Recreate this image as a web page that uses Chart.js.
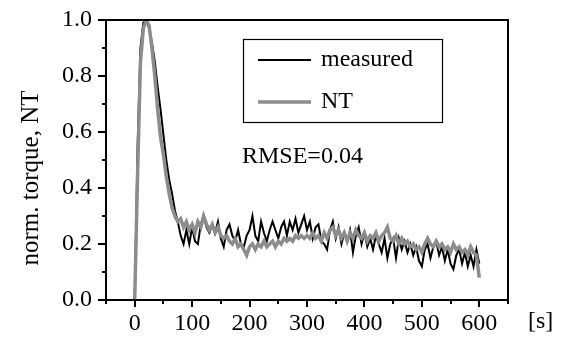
<!DOCTYPE html>
<html>
<head>
<meta charset="utf-8">
<script src="https://cdn.jsdelivr.net/npm/chart.js@4"></script>
<style>
  html, body { margin: 0; padding: 0; background: #fff; }
  #wrap { width: 567px; height: 338px; }
</style>
</head>
<body>
<div id="wrap"><canvas id="canvas" width="567" height="338"></canvas></div>
<script>
// time axis [s], one sample every 5 s
const tiempos = [
  0,5,10,15,20,25,30,35,40,45,50,55,60,65,70,75,80,85,90,95,
  100,105,110,115,120,125,130,135,140,145,150,155,160,165,170,175,180,185,190,195,
  200,205,210,215,220,225,230,235,240,245,250,255,260,265,270,275,280,285,290,295,
  300,305,310,315,320,325,330,335,340,345,350,355,360,365,370,375,380,385,390,395,
  400,405,410,415,420,425,430,435,440,445,450,455,460,465,470,475,480,485,490,495,
  500,505,510,515,520,525,530,535,540,545,550,555,560,565,570,575,580,585,590,595,
  600
];
// measured (black)
const medido = [
  0.00,0.55,0.90,0.99,1.00,0.97,0.92,0.85,0.76,0.68,0.59,0.50,0.43,0.38,0.32,0.28,0.23,0.20,0.25,0.20,
  0.26,0.21,0.20,0.27,0.30,0.26,0.24,0.27,0.24,0.28,0.22,0.19,0.25,0.27,0.23,0.21,0.25,0.20,0.19,0.23,
  0.25,0.30,0.23,0.21,0.28,0.24,0.21,0.25,0.28,0.25,0.22,0.26,0.28,0.23,0.28,0.25,0.29,0.24,0.27,0.30,
  0.25,0.28,0.22,0.26,0.27,0.21,0.20,0.18,0.25,0.28,0.22,0.26,0.20,0.24,0.21,0.25,0.17,0.23,0.26,0.20,
  0.24,0.19,0.22,0.18,0.23,0.20,0.17,0.22,0.15,0.20,0.22,0.15,0.22,0.18,0.21,0.17,0.20,0.16,0.19,0.14,
  0.12,0.18,0.20,0.15,0.19,0.21,0.16,0.19,0.14,0.18,0.13,0.11,0.16,0.18,0.13,0.17,0.12,0.16,0.12,0.18,
  0.13
];
// NT model (gray)
const modeloNT = [
  0.00,0.45,0.85,0.97,1.00,0.98,0.90,0.80,0.68,0.58,0.52,0.44,0.38,0.33,0.30,0.28,0.29,0.26,0.28,0.25,
  0.27,0.24,0.28,0.26,0.30,0.27,0.25,0.27,0.24,0.26,0.23,0.22,0.23,0.21,0.20,0.22,0.19,0.20,0.18,0.16,
  0.19,0.20,0.18,0.20,0.19,0.21,0.19,0.20,0.21,0.19,0.21,0.20,0.22,0.21,0.22,0.21,0.23,0.22,0.23,0.22,
  0.23,0.22,0.24,0.22,0.23,0.21,0.24,0.22,0.25,0.26,0.23,0.25,0.22,0.24,0.21,0.24,0.22,0.25,0.23,0.22,
  0.24,0.21,0.23,0.22,0.24,0.21,0.23,0.24,0.26,0.22,0.21,0.23,0.20,0.22,0.20,0.21,0.19,0.20,0.18,0.19,
  0.17,0.20,0.22,0.20,0.19,0.21,0.19,0.20,0.18,0.19,0.17,0.20,0.18,0.19,0.17,0.18,0.16,0.19,0.17,0.16,
  0.08
];
const etiquetas = ["measured", "NT"];
const textoRMSE = "RMSE=0.04";
const tituloY = "norm. torque, NT";
const unidadX = "[s]";

const fuente = "'Liberation Serif', 'Times New Roman', serif";

function puntos(xs, ys){
    let lista = [];
    for (let i = 0; i < xs.length; i++){
        lista.push({x: xs[i], y: ys[i]});
    }
    return lista;
}

// ticks, frame, legend box and extra texts
const extras = {
    id: "extras",
    afterDraw(chart){
        const ctx = chart.ctx;
        const a = chart.chartArea;
        const sx = chart.scales.x;
        const sy = chart.scales.y;
        ctx.save();
        ctx.strokeStyle = "#000";
        ctx.lineWidth = 2;
        // frame
        ctx.strokeRect(a.left, a.top, a.right - a.left, a.bottom - a.top);
        // tick marks, major longer than minor
        ctx.beginPath();
        sy.ticks.forEach(t => {
            const py = Math.round(sy.getPixelForValue(t.value));
            const mayor = Math.round(t.value * 10) % 2 === 0;
            ctx.moveTo(a.left - (mayor ? 8 : 4), py);
            ctx.lineTo(a.left, py);
        });
        sx.ticks.forEach(t => {
            const px = Math.round(sx.getPixelForValue(t.value));
            const mayor = t.value % 100 === 0;
            ctx.moveTo(px, a.bottom);
            ctx.lineTo(px, a.bottom + (mayor ? 7 : 4));
        });
        ctx.stroke();

        // legend box
        const ds = chart.data.datasets;
        ctx.lineWidth = 1.2;
        ctx.strokeRect(243.5, 39.5, 199, 83);
        const filas = [60, 102];
        ctx.font = "24px " + fuente;
        ctx.textBaseline = "middle";
        ctx.textAlign = "left";
        ds.forEach((d, i) => {
            ctx.strokeStyle = d.borderColor;
            ctx.lineWidth = d.borderWidth;
            ctx.beginPath();
            ctx.moveTo(258, filas[i]);
            ctx.lineTo(311, filas[i]);
            ctx.stroke();
        });
        ctx.fillStyle = "#000";
        ctx.fillText(etiquetas[0], 321, filas[0]);
        ctx.fillText(etiquetas[1], 321, filas[1]);

        // RMSE note
        ctx.fillText(textoRMSE, 242, 157);

        // unit of x axis
        ctx.fillText(unidadX, 528, 322);

        // y title
        ctx.save();
        ctx.translate(31, 178);
        ctx.rotate(-Math.PI / 2);
        ctx.textAlign = "center";
        ctx.font = "25px " + fuente;
        ctx.fillText(tituloY, 0, 0);
        ctx.restore();
        ctx.restore();
    }
};

const data = {
    datasets: [
        {
            label: etiquetas[0],
            data: puntos(tiempos, medido),
            borderColor: "#000000",
            borderWidth: 2,
            pointRadius: 0,
            tension: 0,
            order: 2
        },
        {
            label: etiquetas[1],
            data: puntos(tiempos, modeloNT),
            borderColor: "#8c8c8c",
            borderWidth: 3.5,
            pointRadius: 0,
            tension: 0,
            order: 1
        }
    ]
};

const options = {
    responsive: false,
    animation: false,
    layout: { padding: { top: 20, right: 59, left: 0, bottom: 0 } },
    plugins: {
        legend: { display: false },
        tooltip: { enabled: false }
    },
    scales: {
        x: {
            type: "linear",
            min: -50,
            max: 650,
            afterFit: s => { s.height = 38; s.paddingLeft = 0; s.paddingRight = 0; },
            afterBuildTicks: s => {
                let t = [];
                for (let v = -50; v <= 650; v += 50) t.push({value: v});
                s.ticks = t;
            },
            grid: { display: true, drawOnChartArea: false, drawTicks: false },
            border: { display: false },
            ticks: {
                padding: 9,
                color: "#000",
                maxRotation: 0,
                autoSkip: false,
                font: { family: fuente, size: 24 },
                callback: v => (v % 100 === 0 && v >= 0 && v <= 600) ? String(v) : ""
            }
        },
        y: {
            min: 0,
            max: 1,
            afterFit: s => { s.width = 106; s.paddingTop = 0; s.paddingBottom = 0; },
            afterBuildTicks: s => {
                let t = [];
                for (let i = 0; i <= 10; i++) t.push({value: i / 10});
                s.ticks = t;
            },
            grid: { display: true, drawOnChartArea: false, drawTicks: false },
            border: { display: false },
            ticks: {
                padding: 14,
                color: "#000",
                autoSkip: false,
                font: { family: fuente, size: 24 },
                callback: v => (Math.round(v * 10) % 2 === 0) ? v.toFixed(1) : ""
            }
        }
    }
};

const chart = new Chart(document.getElementById("canvas").getContext("2d"), {
    type: "line", data: data, options: options, plugins: [extras]
});
</script>
</body>
</html>
